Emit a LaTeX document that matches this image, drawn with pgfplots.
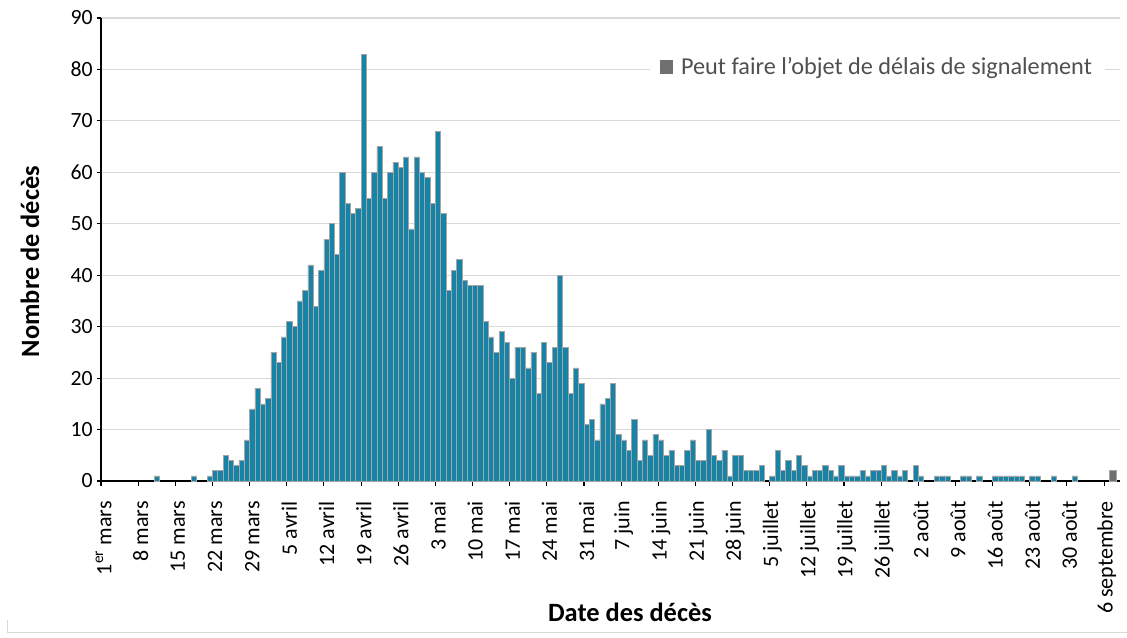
\documentclass[border=0pt]{standalone}
\usepackage{fontspec}
\setmainfont{Carlito}
\usepackage{pgfplots}
\pgfplotsset{compat=1.18}
\usepackage{pgfplotstable}
\definecolor{barteal}{RGB}{23,131,166}
\definecolor{barborder}{RGB}{165,165,165}
\definecolor{bargray}{RGB}{112,112,112}
\definecolor{gridgray}{RGB}{217,217,217}
\definecolor{legtext}{RGB}{80,80,80}

% k = days since 1 March (0 = 1er mars), v = number of deaths
\pgfplotstableread{
k v
10 1
17 1
20 1
21 2
22 2
23 5
24 4
25 3
26 4
27 8
28 14
29 18
30 15
31 16
32 25
33 23
34 28
35 31
36 30
37 35
38 37
39 42
40 34
41 41
42 47
43 50
44 44
45 60
46 54
47 52
48 53
49 83
50 55
51 60
52 65
53 55
54 60
55 62
56 61
57 63
58 49
59 63
60 60
61 59
62 54
63 68
64 52
65 37
66 41
67 43
68 39
69 38
70 38
71 38
72 31
73 28
74 25
75 29
76 27
77 20
78 26
79 26
80 22
81 25
82 17
83 27
84 23
85 26
86 40
87 26
88 17
89 22
90 19
91 11
92 12
93 8
94 15
95 16
96 19
97 9
98 8
99 6
100 12
101 4
102 8
103 5
104 9
105 8
106 5
107 6
108 3
109 3
110 6
111 8
112 4
113 4
114 10
115 5
116 4
117 6
118 1
119 5
120 5
121 2
122 2
123 2
124 3
126 1
127 6
128 2
129 4
130 2
131 5
132 3
133 1
134 2
135 2
136 3
137 2
138 1
139 3
140 1
141 1
142 1
143 2
144 1
145 2
146 2
147 3
148 1
149 2
150 1
151 2
153 3
154 1
157 1
158 1
159 1
162 1
163 1
165 1
168 1
169 1
170 1
171 1
172 1
173 1
175 1
176 1
179 1
183 1
}\dailydata

\pgfplotstableread{
k v
190.1 2
}\delaydata

\begin{document}
\begin{tikzpicture}
\begin{axis}[
  scale only axis,
  width=764.25pt, height=347.25pt,
  xmin=-0.5, xmax=191.5, ymin=0, ymax=90,
  ybar, bar width=1, /pgf/bar shift=0pt,
  axis x line*=bottom, axis y line*=left,
  axis line style={black, line width=0.8pt},
  ytick={0,10,...,90},
  ymajorgrids, grid style={gridgray, line width=0.8pt},
  xtick={0,7,...,189},
  xticklabels={1\textsuperscript{er} mars, 8 mars, 15 mars, 22 mars, 29 mars, 5 avril, 12 avril, 19 avril, 26 avril, 3 mai, 10 mai, 17 mai, 24 mai, 31 mai, 7 juin, 14 juin, 21 juin, 28 juin, 5 juillet, 12 juillet, 19 juillet, 26 juillet, 2 août, 9 août, 16 août, 23 août, 30 août, 6 septembre},
  minor xtick={-0.5,6.5,...,188.5},
  major x tick style={draw=none},
  minor tick length=3.5pt,
  major tick length=3pt,
  tick align=outside,
  tick style={black, line width=0.8pt},
  /pgf/number format/assume math mode=true,
  xticklabel shift=10pt,
  xticklabel style={rotate=90, anchor=east, font=\fontsize{16.5}{16.5}\selectfont, inner sep=2pt},
  yticklabel style={font=\fontsize{16.3}{16.3}\selectfont, inner sep=3pt},
  legend style={at={(0.762,0.894)}, anchor=center, draw=none, fill=white,
    font=\fontsize{18.2}{20}\selectfont\color{legtext}, inner xsep=8pt, inner ysep=2pt},
  legend image code/.code={\fill[bargray] (0pt,-4.8pt) rectangle (9pt,4.8pt); \path (13pt,0pt);},
  clip=false,
]
\addplot[fill=barteal, draw=barborder, line width=0.5pt, forget plot] table[x=k, y=v] {\dailydata};
\addplot[fill=bargray, draw=barborder, line width=0.5pt, bar width=1.3] table[x=k, y=v] {\delaydata};
\addlegendentry{Peut faire l’objet de délais de signalement}
\coordinate (ll) at (rel axis cs:0,0);
\end{axis}
\node[font=\bfseries\fontsize{19.8}{20}\selectfont] at ([shift={(396.75pt,-98.25pt)}]ll) {Date des décès};
\node[rotate=90, font=\bfseries\fontsize{19.8}{20}\selectfont] at ([shift={(-53.25pt,164.6pt)}]ll) {Nombre de décès};
\draw[gridgray, line width=0.75pt] ([shift={(-69.75pt,-104.25pt)}]ll) -- ([shift={(-69.75pt,-113.25pt)}]ll) -- ([shift={(769.5pt,-113.25pt)}]ll);
\pgfresetboundingbox
\path ([shift={(-75.75pt,-117pt)}]ll) rectangle ++(845.25pt,477.75pt);
\end{tikzpicture}
\end{document}
